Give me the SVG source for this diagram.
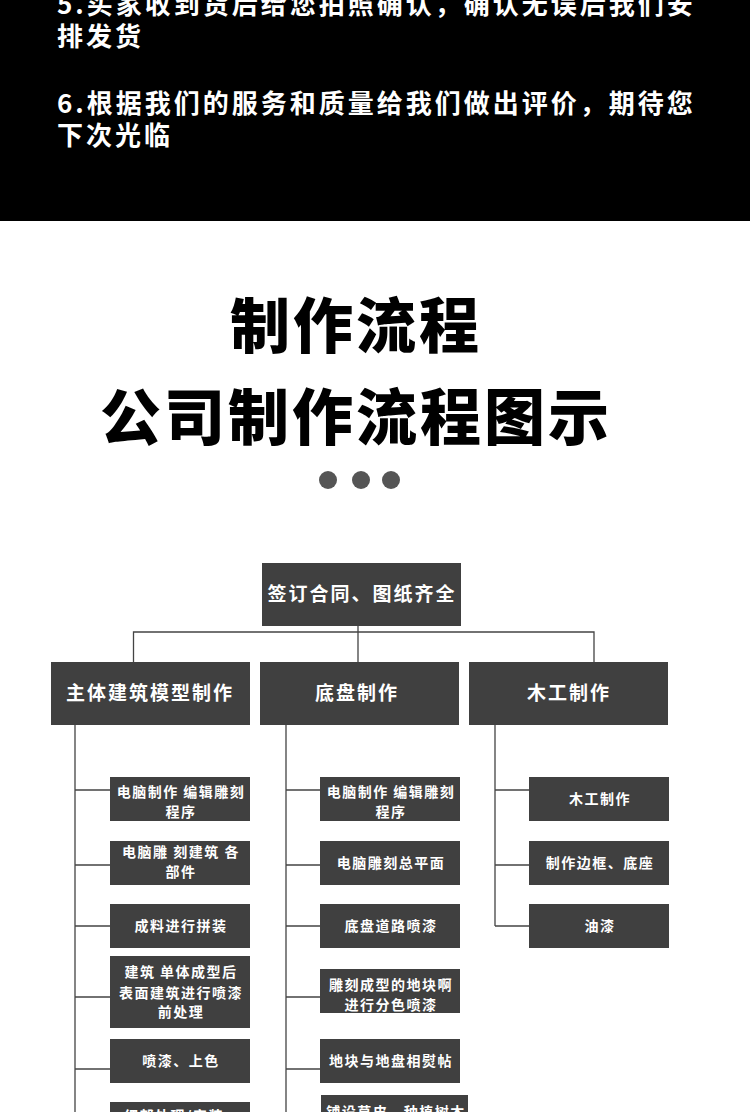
<svg xmlns="http://www.w3.org/2000/svg" width="750" height="1112" viewBox="0 0 750 1112">
<style>
.band{font-family:"Noto Sans CJK SC","Noto Sans",sans-serif;font-weight:700;font-size:26px;fill:#fff;letter-spacing:3px}
.title{font-family:"Noto Sans CJK SC","Noto Sans",sans-serif;font-weight:900;fill:#000;text-anchor:middle}
.box{fill:#404040}
.t2{font-family:"Noto Sans CJK SC","Noto Sans",sans-serif;font-weight:700;font-size:19px;fill:#fff;text-anchor:middle;letter-spacing:2px}
.t3{font-family:"Noto Sans CJK SC","Noto Sans",sans-serif;font-weight:700;font-size:14px;fill:#fff;text-anchor:middle;letter-spacing:1.5px}
.ln{stroke:#444;stroke-width:1.3;fill:none}
</style>
<rect x="0" y="0" width="750" height="221" fill="#000"/>
<text class="band"><tspan x="57" y="14">5.买家收到货后给您拍照确认，确认无误后我们安</tspan><tspan x="57" y="46">排发货</tspan></text>
<text class="band"><tspan x="57" y="113">6.根据我们的服务和质量给我们做出评价，期待您</tspan><tspan x="57" y="145">下次光临</tspan></text>
<text class="title" x="356" y="348" font-size="60" letter-spacing="3">制作流程</text>
<text class="title" x="356" y="440" font-size="61" letter-spacing="3">公司制作流程图示</text>
<g fill="#555">
<circle cx="328" cy="480" r="9"/>
<circle cx="361" cy="480" r="9"/>
<circle cx="391" cy="480" r="9"/>
</g>
<g id="connectors" class="ln">
<path d="M358 626V632M133.5 662V632H594V662M358 632V662"/>
<path d="M75 725V1112M75 790H110M75 865H110M75 926H110M75 997H110M75 1069H110"/>
<path d="M286 725V1112M286 790H320M286 865H320M286 926H320M286 997H320M286 1069H320"/>
<path d="M495 725V926M495 790H529M495 865H529M495 926H529"/>
</g>
<g id="n-top"><rect class="box" x="262" y="563" width="199" height="63"/><text class="t2" x="362" y="601">签订合同、图纸齐全</text></g>
<g id="n-main"><rect class="box" x="51" y="662" width="199" height="63"/><text class="t2" x="150" y="700">主体建筑模型制作</text></g>
<g id="n-base"><rect class="box" x="260" y="662" width="199" height="63"/><text class="t2" x="357" y="700">底盘制作</text></g>
<g id="n-wood"><rect class="box" x="469" y="662" width="199" height="63"/><text class="t2" x="569" y="700">木工制作</text></g>

<g id="c1-1"><rect class="box" x="110" y="777" width="140" height="44"/><text class="t3"><tspan x="181" y="797">电脑制作 编辑雕刻</tspan><tspan x="181" y="817">程序</tspan></text></g>
<g id="c1-2"><rect class="box" x="110" y="841" width="140" height="44"/><text class="t3"><tspan x="181" y="857">电脑雕 刻建筑 各</tspan><tspan x="181" y="877">部件</tspan></text></g>
<g id="c1-3"><rect class="box" x="110" y="904" width="140" height="44"/><text class="t3" x="181" y="931">成料进行拼装</text></g>
<g id="c1-4"><rect class="box" x="110" y="956" width="140" height="72"/><text class="t3"><tspan x="181" y="977">建筑 单体成型后</tspan><tspan x="181" y="998">表面建筑进行喷漆</tspan><tspan x="181" y="1017">前处理</tspan></text></g>
<g id="c1-5"><rect class="box" x="110" y="1039" width="140" height="44"/><text class="t3" x="181" y="1066">喷漆、上色</text></g>
<g id="c1-6"><rect class="box" x="110" y="1102" width="140" height="44"/><text class="t3" x="174" y="1121">细部处理/安装</text></g>

<g id="c2-1"><rect class="box" x="320" y="777" width="140" height="44"/><text class="t3"><tspan x="391" y="797">电脑制作 编辑雕刻</tspan><tspan x="391" y="817">程序</tspan></text></g>
<g id="c2-2"><rect class="box" x="320" y="841" width="140" height="44"/><text class="t3" x="391" y="868">电脑雕刻总平面</text></g>
<g id="c2-3"><rect class="box" x="320" y="904" width="140" height="44"/><text class="t3" x="391" y="931">底盘道路喷漆</text></g>
<g id="c2-4"><rect class="box" x="320" y="969" width="140" height="44"/><text class="t3"><tspan x="391" y="990">雕刻成型的地块啊</tspan><tspan x="391" y="1010">进行分色喷漆</tspan></text></g>
<g id="c2-5"><rect class="box" x="320" y="1039" width="140" height="44"/><text class="t3" x="391" y="1066">地块与地盘相熨帖</text></g>
<g id="c2-6"><rect class="box" x="321" y="1095" width="147" height="44"/><text class="t3" x="396" y="1117" font-size="15">铺设草皮、种植树木</text></g>

<g id="c3-1"><rect class="box" x="529" y="777" width="140" height="44"/><text class="t3" x="600" y="804">木工制作</text></g>
<g id="c3-2"><rect class="box" x="529" y="841" width="140" height="44"/><text class="t3" x="600" y="868">制作边框、底座</text></g>
<g id="c3-3"><rect class="box" x="529" y="904" width="140" height="44"/><text class="t3" x="600" y="931">油漆</text></g>
</svg>
